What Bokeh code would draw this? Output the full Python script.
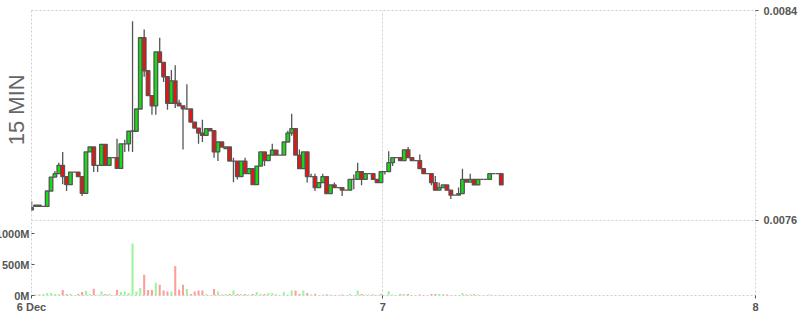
import pandas as pd
from bokeh.plotting import figure
from bokeh.models import (Range1d, LinearAxis, FixedTicker, PrintfTickFormatter,
                          Label, ColumnDataSource)
from bokeh.embed import file_html
from bokeh.resources import INLINE

# ---- data (15 minute candles) ----
opens = [0.007639, 0.007652, 0.007657, 0.007652, 0.007652, 0.007711, 0.007764, 0.007777, 0.007809, 0.007766,
         0.007735, 0.007783, 0.007783, 0.007766, 0.007702, 0.007860, 0.007879, 0.007809, 0.007809, 0.007889,
         0.007809, 0.007838, 0.007838, 0.007797, 0.007891, 0.007891, 0.007939, 0.007939, 0.008024, 0.008296,
         0.008170, 0.008075, 0.008036, 0.008242, 0.008202, 0.008147, 0.008046, 0.008131, 0.008046, 0.008036,
         0.008024, 0.008024, 0.007974, 0.007951, 0.007932, 0.007923, 0.007949, 0.007941, 0.007860, 0.007898,
         0.007873, 0.007879, 0.007825, 0.007825, 0.007766, 0.007825, 0.007777, 0.007796, 0.007735, 0.007806,
         0.007860, 0.007827, 0.007848, 0.007867, 0.007848, 0.007848, 0.007898, 0.007932, 0.007949, 0.007848,
         0.007796, 0.007860, 0.007766, 0.007766, 0.007724, 0.007743, 0.007766, 0.007701, 0.007734, 0.007724,
         0.007724, 0.007714, 0.007714, 0.007755, 0.007755, 0.007785, 0.007755, 0.007777, 0.007777, 0.007755,
         0.007743, 0.007785, 0.007785, 0.007819, 0.007838, 0.007838, 0.007827, 0.007868, 0.007838, 0.007827,
         0.007827, 0.007796, 0.007777, 0.007777, 0.007743, 0.007714, 0.007724, 0.007734, 0.007714, 0.007695,
         0.007695, 0.007701, 0.007755, 0.007745, 0.007755, 0.007734, 0.007755, 0.007755, 0.007755, 0.007777,
         0.007777, 0.007777]
closes = [0.007647, 0.007657, 0.007652, 0.007652, 0.007711, 0.007764, 0.007777, 0.007809, 0.007766, 0.007735,
          0.007783, 0.007783, 0.007766, 0.007702, 0.007860, 0.007879, 0.007809, 0.007809, 0.007889, 0.007809,
          0.007838, 0.007838, 0.007797, 0.007891, 0.007891, 0.007939, 0.007940, 0.008024, 0.008296, 0.008170,
          0.008075, 0.008036, 0.008242, 0.008202, 0.008147, 0.008046, 0.008131, 0.008046, 0.008036, 0.008025,
          0.008024, 0.007974, 0.007951, 0.007932, 0.007923, 0.007949, 0.007941, 0.007860, 0.007898, 0.007879,
          0.007879, 0.007825, 0.007825, 0.007766, 0.007825, 0.007777, 0.007796, 0.007735, 0.007806, 0.007860,
          0.007827, 0.007848, 0.007867, 0.007848, 0.007848, 0.007898, 0.007932, 0.007949, 0.007848, 0.007796,
          0.007860, 0.007766, 0.007766, 0.007724, 0.007743, 0.007766, 0.007701, 0.007734, 0.007724, 0.007724,
          0.007714, 0.007714, 0.007755, 0.007755, 0.007785, 0.007755, 0.007777, 0.007777, 0.007755, 0.007743,
          0.007785, 0.007785, 0.007819, 0.007838, 0.007838, 0.007827, 0.007868, 0.007838, 0.007827, 0.007827,
          0.007796, 0.007777, 0.007777, 0.007743, 0.007714, 0.007724, 0.007734, 0.007714, 0.007695, 0.007695,
          0.007701, 0.007755, 0.007745, 0.007755, 0.007734, 0.007755, 0.007755, 0.007755, 0.007777, 0.007777,
          0.007777, 0.007734]
highs = [0.007672, 0.007657, 0.007657, 0.007652, 0.007711, 0.007764, 0.007787, 0.007819, 0.007860, 0.007766,
         0.007783, 0.007783, 0.007783, 0.007766, 0.007860, 0.007879, 0.007879, 0.007809, 0.007889, 0.007889,
         0.007838, 0.007838, 0.007910, 0.007891, 0.007907, 0.007939, 0.008359, 0.008024, 0.008296, 0.008327,
         0.008170, 0.008075, 0.008242, 0.008296, 0.008202, 0.008147, 0.008173, 0.008191, 0.008059, 0.008036,
         0.008118, 0.008024, 0.007974, 0.007951, 0.007983, 0.007949, 0.007949, 0.007941, 0.007898, 0.007898,
         0.007879, 0.007879, 0.007838, 0.007825, 0.007825, 0.007838, 0.007796, 0.007796, 0.007806, 0.007860,
         0.007860, 0.007848, 0.007891, 0.007867, 0.007848, 0.007898, 0.007941, 0.008006, 0.007949, 0.007869,
         0.007860, 0.007860, 0.007777, 0.007777, 0.007743, 0.007777, 0.007766, 0.007734, 0.007743, 0.007724,
         0.007724, 0.007714, 0.007755, 0.007774, 0.007819, 0.007785, 0.007777, 0.007777, 0.007777, 0.007755,
         0.007785, 0.007785, 0.007863, 0.007838, 0.007838, 0.007838, 0.007868, 0.007879, 0.007838, 0.007827,
         0.007850, 0.007796, 0.007777, 0.007777, 0.007768, 0.007743, 0.007734, 0.007734, 0.007714, 0.007695,
         0.007724, 0.007796, 0.007755, 0.007777, 0.007755, 0.007755, 0.007755, 0.007755, 0.007777, 0.007777,
         0.007777, 0.007777]
lows = [0.007636, 0.007652, 0.007652, 0.007652, 0.007652, 0.007711, 0.007764, 0.007777, 0.007737, 0.007711,
        0.007735, 0.007783, 0.007766, 0.007692, 0.007702, 0.007860, 0.007783, 0.007783, 0.007809, 0.007809,
        0.007809, 0.007838, 0.007797, 0.007797, 0.007860, 0.007862, 0.007860, 0.007939, 0.008024, 0.008147,
        0.008075, 0.008002, 0.008002, 0.008202, 0.008127, 0.008021, 0.008046, 0.008028, 0.008036, 0.007869,
        0.008024, 0.007974, 0.007951, 0.007891, 0.007898, 0.007923, 0.007941, 0.007838, 0.007825, 0.007879,
        0.007873, 0.007825, 0.007744, 0.007755, 0.007766, 0.007777, 0.007777, 0.007735, 0.007735, 0.007806,
        0.007806, 0.007827, 0.007848, 0.007848, 0.007848, 0.007848, 0.007898, 0.007922, 0.007848, 0.007796,
        0.007796, 0.007743, 0.007766, 0.007711, 0.007724, 0.007743, 0.007701, 0.007701, 0.007724, 0.007724,
        0.007692, 0.007714, 0.007714, 0.007718, 0.007755, 0.007733, 0.007755, 0.007777, 0.007755, 0.007743,
        0.007743, 0.007774, 0.007785, 0.007806, 0.007838, 0.007827, 0.007827, 0.007838, 0.007827, 0.007827,
        0.007796, 0.007777, 0.007777, 0.007733, 0.007714, 0.007714, 0.007724, 0.007714, 0.007680, 0.007695,
        0.007695, 0.007701, 0.007745, 0.007745, 0.007734, 0.007734, 0.007755, 0.007755, 0.007755, 0.007777,
        0.007777, 0.007734]
volumes_m = [10, 15, 15, 25, 40, 40, 25, 25, 90, 25,
             25, 10, 25, 55, 76, 25, 109, 15, 65, 25,
             25, 10, 95, 55, 65, 40, 846, 65, 120, 338,
             90, 90, 207, 175, 80, 65, 65, 480, 95, 175,
             105, 25, 65, 80, 80, 25, 10, 105, 65, 15,
             25, 25, 80, 25, 25, 25, 15, 25, 55, 25,
             25, 40, 40, 15, 10, 55, 15, 80, 80, 25,
             80, 40, 15, 30, 10, 15, 20, 15, 10, 10,
             15, 10, 25, 10, 80, 25, 15, 15, 15, 10,
             25, 10, 70, 15, 10, 25, 25, 25, 10, 10,
             15, 10, 10, 25, 25, 25, 25, 15, 10, 10,
             10, 40, 15, 20, 20, 15, 5, 5, 15, 5,
             5, 10]
first_candle = "2024-12-06 01:15"
x_tick_values = [82, 1440, 2880]          # minutes since 6 Dec 00:00
x_tick_labels = ["6 Dec", "7", "8"]
price_ticks = [0.0076, 0.0084]
volume_ticks = [0, 500, 1000]
chart_title = "15 MIN"

times = pd.date_range(first_candle, periods=len(opens), freq="15min")
day0 = pd.Timestamp("2024-12-06")
xs = ((times - day0).total_seconds() / 60 + 7.5).tolist()

up = [c >= o for o, c in zip(opens, closes)]
src = ColumnDataSource(dict(
    x=xs,
    top=[max(o, c) for o, c in zip(opens, closes)],
    bottom=[min(o, c) for o, c in zip(opens, closes)],
    high=highs, low=lows, vol=volumes_m,
    bc=["#12e012" if u else "#ee1111" for u in up],
    vc=["#9cf59c" if u else "#ff9c9c" for u in up],
))

LEFT = 70   # figure-space left border; frame lands at screen x = 31
p = figure(width=769 + LEFT, height=315, x_range=Range1d(82, 2880),
           y_range=Range1d(0.007312, 0.0084), output_backend="svg",
           toolbar_location=None, tools="", y_axis_location="right",
           min_border_left=LEFT, min_border_right=43, min_border_top=10,
           min_border_bottom=18)
p.margin = (0, 0, 0, 31 - LEFT)
p.background_fill_color = "white"
p.border_fill_color = "white"
p.outline_line_color = "#cfcfcf"
p.outline_line_dash = "2 2"
p.extra_y_ranges = {"vol": Range1d(0, 4630)}

label_style = dict(major_label_text_font="Liberation Sans",
                   major_label_text_font_style="bold",
                   major_label_text_font_size="11px",
                   major_label_text_color="#555555",
                   axis_line_color=None,
                   major_tick_line_color="#555555",
                   minor_tick_line_color=None)

xa = p.xaxis[0]
xa.ticker = FixedTicker(ticks=x_tick_values)
xa.major_label_overrides = dict(zip(x_tick_values, x_tick_labels))
xa.major_tick_out = 3
xa.major_tick_in = 0
xa.major_label_standoff = 2
for k, v in label_style.items():
    setattr(xa, k, v)

ya = p.yaxis[0]
ya.ticker = FixedTicker(ticks=price_ticks)
ya.formatter = PrintfTickFormatter(format="%.4f")
ya.major_tick_out = 3
ya.major_tick_in = 0
ya.major_label_standoff = 5
for k, v in label_style.items():
    setattr(ya, k, v)

va = LinearAxis(y_range_name="vol", ticker=FixedTicker(ticks=volume_ticks),
                formatter=PrintfTickFormatter(format="%dM"))
va.major_tick_out = 0
va.major_tick_in = 3
va.major_label_standoff = 2
for k, v in label_style.items():
    setattr(va, k, v)
p.add_layout(va, "left")

p.xgrid.ticker = FixedTicker(ticks=x_tick_values)
p.ygrid.ticker = FixedTicker(ticks=price_ticks)
for g in (p.xgrid[0], p.ygrid[0]):
    g.grid_line_color = "#cfcfcf"
    g.grid_line_dash = "2 2"

p.vbar(x="x", width=8, top="vol", bottom=0, fill_color="vc", line_color=None,
       y_range_name="vol", source=src)
p.segment(x0="x", x1="x", y0="low", y1="high", line_color="#555555",
          line_width=1.3, source=src)
p.vbar(x="x", width=14, top="top", bottom="bottom", fill_color="bc",
       line_color="#555555", line_width=1.3, source=src)

# title text in the left side panel (side-panel annotations are not clipped to the frame)
p.add_layout(Label(x=24, y=0.008021, text=chart_title, angle=90, angle_units="deg",
                   text_align="center", text_baseline="middle",
                   text_font="Liberation Sans", text_font_size="22px",
                   text_color="#666666"), "left")

open("out.html", "w").write(file_html(p, INLINE))
